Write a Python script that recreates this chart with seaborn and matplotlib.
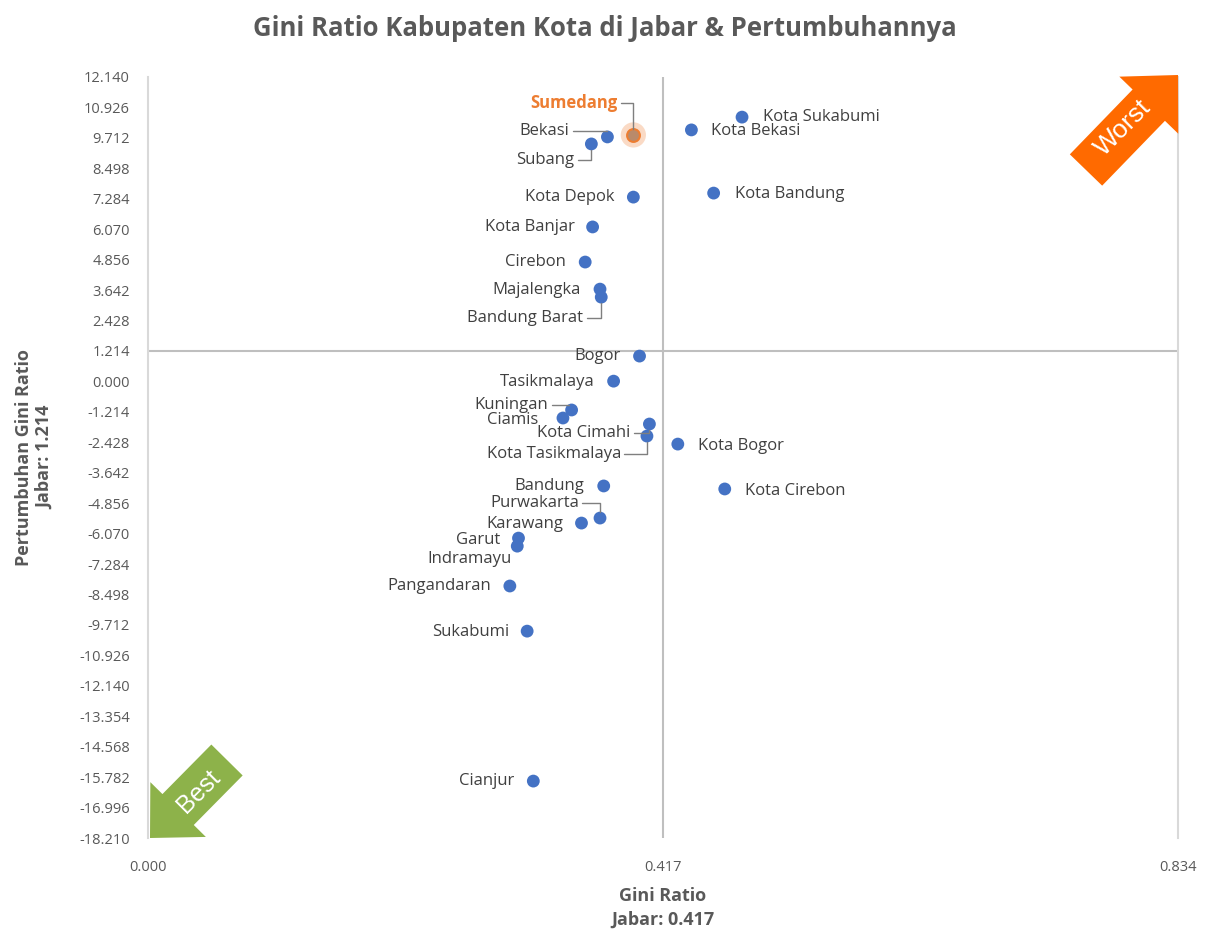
import matplotlib
matplotlib.use('Agg')
import matplotlib.pyplot as plt
import matplotlib.patches as mpatches
from matplotlib.transforms import IdentityTransform
import pandas as pd
import seaborn as sns

# Data
regions = ['Kota Sukabumi', 'Kota Bekasi', 'Sumedang', 'Bekasi', 'Subang', 'Kota Depok',
           'Kota Bandung', 'Kota Banjar', 'Cirebon', 'Majalengka', 'Bandung Barat', 'Bogor',
           'Tasikmalaya', 'Kuningan', 'Ciamis', 'Kota Cimahi', 'Kota Tasikmalaya', 'Kota Bogor',
           'Bandung', 'Kota Cirebon', 'Purwakarta', 'Karawang', 'Garut', 'Indramayu',
           'Pangandaran', 'Sukabumi', 'Cianjur']
gini = [0.481, 0.440, 0.393, 0.372, 0.359, 0.393,
        0.458, 0.360, 0.354, 0.366, 0.367, 0.398,
        0.377, 0.343, 0.336, 0.406, 0.404, 0.429,
        0.369, 0.467, 0.366, 0.351, 0.300, 0.299,
        0.293, 0.307, 0.312]
growth = [10.54, 10.03, 9.83, 9.75, 9.47, 7.35,
          7.51, 6.16, 4.76, 3.68, 3.36, 1.01,
          0.01, -1.14, -1.46, -1.70, -2.18, -2.50,
          -4.17, -4.29, -5.45, -5.65, -6.25, -6.57,
          -8.16, -9.96, -15.94]

jabar_gini = 0.417
jabar_growth = 1.214
highlight = 'Sumedang'
x_max = 0.834
y_step = 1.214
y_ticks = [round(y_step * k, 3) for k in range(-15, 11)]

# label placement in pixels (dx, dy, ha, leader line?)
label_pos = {
    'Kota Sukabumi': (21, 0, 'left', False),
    'Kota Bekasi': (20, -1, 'left', False),
    'Sumedang': (-16, 32, 'right', True),
    'Bekasi': (-38, 6, 'right', True),
    'Subang': (-17, -16, 'right', True),
    'Kota Depok': (-19, 0, 'right', False),
    'Kota Bandung': (21, -1, 'left', False),
    'Kota Banjar': (-18, 0, 'right', False),
    'Cirebon': (-19, 0, 'right', False),
    'Majalengka': (-19, -1, 'right', False),
    'Bandung Barat': (-18, -21, 'right', True),
    'Bogor': (-19, 0, 'right', False),
    'Tasikmalaya': (-19, -1, 'right', False),
    'Kuningan': (-23, 5, 'right', True),
    'Ciamis': (-25, -2, 'right', False),
    'Kota Cimahi': (-19, -9, 'right', True),
    'Kota Tasikmalaya': (-26, -18, 'right', True),
    'Kota Bogor': (20, -2, 'left', False),
    'Bandung': (-19, 0, 'right', False),
    'Kota Cirebon': (20, -2, 'left', False),
    'Purwakarta': (-21, 15, 'right', True),
    'Karawang': (-18, -1, 'right', False),
    'Garut': (-18, -2, 'right', False),
    'Indramayu': (-6, -13, 'right', False),
    'Pangandaran': (-19, 0, 'right', False),
    'Sukabumi': (-18, -1, 'right', False),
    'Cianjur': (-19, 0, 'right', False),
}

df = pd.DataFrame({'region': regions, 'gini': gini, 'growth': growth})

sns.set_theme(style='white')
plt.rcParams['font.family'] = ['Open Sans', 'DejaVu Sans']

fig = plt.figure(figsize=(12.1, 9.34), dpi=100)
ax = fig.add_axes([148 / 1210, 1 - 838 / 934, 1030 / 1210, 761 / 934])

text_gray = '#595959'
line_gray = '#BFBFBF'

# quadrant lines
ax.axvline(jabar_gini, color=line_gray, lw=1.5, zorder=1)
ax.axhline(jabar_growth, color=line_gray, lw=1.5, zorder=1)

hl = df[df['region'] == highlight]
ax.scatter(hl['gini'], hl['growth'], s=330, color='#F8CBAD', alpha=0.7, edgecolor='none', zorder=2)
sns.scatterplot(data=df[df['region'] != highlight], x='gini', y='growth', color='#4472C4',
                s=85, edgecolor='none', ax=ax, zorder=3)
ax.scatter(hl['gini'], hl['growth'], s=85, color='#B98A6A', edgecolor='#ED7D31', lw=1.5, zorder=3)

for name, gx, gy in zip(df['region'], df['gini'], df['growth']):
    dx, dy, ha, leader = label_pos[name]
    is_hl = name == highlight
    props = None
    if leader:
        props = dict(arrowstyle='-', color='#7F7F7F', lw=1,
                     connectionstyle='angle,angleA=0,angleB=90,rad=0',
                     relpos=(1 if ha == 'right' else 0, 0.5), shrinkA=0, shrinkB=4)
    ax.annotate(name, (gx, gy), xytext=(dx, dy), textcoords='offset pixels',
                ha=ha, va='center', fontsize=12,
                color='#ED7D31' if is_hl else '#404040',
                fontweight='bold' if is_hl else 'normal',
                arrowprops=props, zorder=4)

ax.set_xlim(0, x_max)
ax.set_ylim(y_ticks[0], y_ticks[-1])
ax.set_xticks([0, jabar_gini, x_max])
ax.set_xticklabels([f'{v:.3f}' for v in [0, jabar_gini, x_max]])
ax.set_yticks(y_ticks)
ax.set_yticklabels([f'{v:.3f}' for v in y_ticks])
ax.tick_params(axis='both', length=0, labelsize=10.5, labelcolor=text_gray)
ax.tick_params(axis='x', pad=16)
ax.tick_params(axis='y', pad=13)

for side in ['top', 'bottom']:
    ax.spines[side].set_visible(False)
for side in ['left', 'right']:
    ax.spines[side].set_color('#D9D9D9')
    ax.spines[side].set_linewidth(1.5)

ax.set_xlabel('Gini Ratio\nJabar: 0.417', fontsize=13, fontweight='bold', color=text_gray,
              linespacing=1.4)
ax.xaxis.set_label_coords(0.5, -0.064)
ax.set_ylabel('Pertumbuhan Gini Ratio\nJabar: 1.214', fontsize=13, fontweight='bold',
              color=text_gray, linespacing=1.25)
ax.yaxis.set_label_coords(-0.091, 0.5)
fig.text(605 / 1210, 1 - 28 / 934, 'Gini Ratio Kabupaten Kota di Jabar & Pertumbuhannya',
         ha='center', va='center', fontsize=18.5, fontweight='bold', color=text_gray)

# "Worst" / "Best" arrows drawn in pixel space
H = 934
worst = mpatches.FancyArrow(1086, H - 170, 92, 95, width=45, head_width=82, head_length=42,
                            length_includes_head=True, color='#FF6A00', lw=0,
                            transform=IdentityTransform())
best = mpatches.FancyArrow(227, H - 760, -77, -78, width=44, head_width=78, head_length=40,
                           length_includes_head=True, color='#8DB24A', lw=0,
                           transform=IdentityTransform())
fig.add_artist(worst)
fig.add_artist(best)
fig.text(1123 / 1210, 1 - 128 / 934, 'Worst', rotation=45, ha='center', va='center',
         color='white', fontsize=19, family=['Liberation Sans', 'DejaVu Sans'])
fig.text(199 / 1210, 1 - 791 / 934, 'Best', rotation=45, ha='center', va='center',
         color='white', fontsize=18, family=['Liberation Sans', 'DejaVu Sans'])

fig.savefig('out.png', dpi=100)
